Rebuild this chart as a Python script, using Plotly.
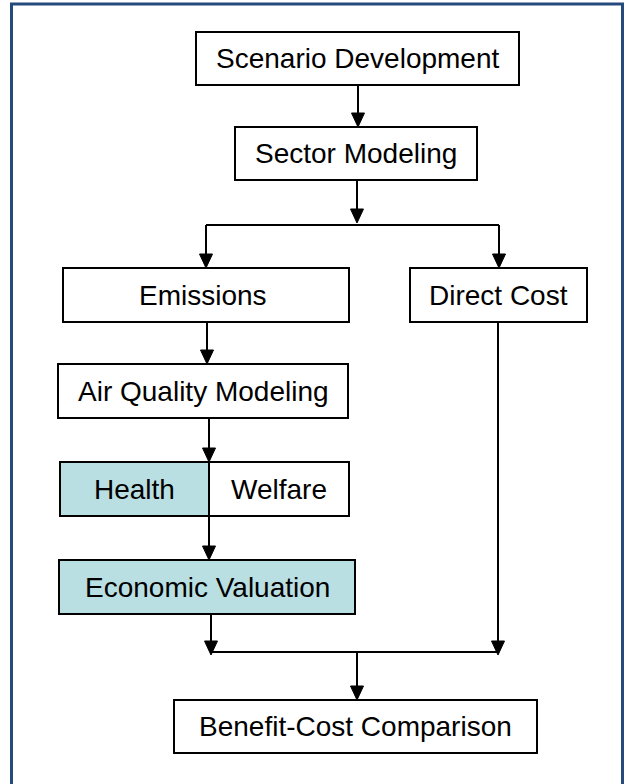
import plotly.graph_objects as go

# ---- content (labels) ----
node_labels = [
    "Scenario Development",
    "Sector Modeling",
    "Emissions",
    "Direct Cost",
    "Air Quality Modeling",
    "Health",
    "Welfare",
    "Economic Valuation",
    "Benefit-Cost Comparison",
]
highlighted = ["Health", "Economic Valuation"]

# ---- layout (pixel coordinate system: x0, x1, y0, y1) ----
box_geom = {
    "Scenario Development": (196, 519, 32, 85),
    "Sector Modeling": (235, 477, 127, 180),
    "Emissions": (63, 349, 268, 322),
    "Direct Cost": (410, 587, 268, 322),
    "Air Quality Modeling": (58, 348, 364, 418),
    "Health": (60, 209, 462, 516),
    "Welfare": (209, 349, 462, 516),
    "Economic Valuation": (59, 355, 560, 614),
    "Benefit-Cost Comparison": (174, 537, 700, 753),
}
text_x_offset = {"Emissions": -3}

# connectors: list of points; last segment ends with an arrow if flagged
connectors = [
    ([(358, 85), (358, 127)], True),
    ([(357, 180), (357, 223)], True),
    ([(206, 225), (499, 225)], False),
    ([(206, 225), (206, 268)], True),
    ([(499, 225), (499, 268)], True),
    ([(207, 322), (207, 364)], True),
    ([(209, 418), (209, 462)], True),
    ([(209, 516), (209, 560)], True),
    ([(211, 614), (211, 655)], True),
    ([(211, 652), (498, 652)], False),
    ([(498, 322), (498, 655)], True),
    ([(357, 652), (357, 700)], True),
]

W, H = 625, 784
TEAL = "#B9DFE2"
BORDER = "#244B7C"

fig = go.Figure()
shapes = []
annotations = []

# outer frame
shapes.append(dict(type="rect", xref="x", yref="y", x0=11.5, x1=622.5, y0=4, y1=800,
                   line=dict(color=BORDER, width=3), fillcolor="rgba(0,0,0,0)", layer="below"))

for lab in node_labels:
    x0, x1, y0, y1 = box_geom[lab]
    fill = TEAL if lab in highlighted else "white"
    shapes.append(dict(type="rect", xref="x", yref="y", x0=x0, x1=x1, y0=y0, y1=y1,
                       line=dict(color="black", width=2), fillcolor=fill, layer="above"))
    annotations.append(dict(x=(x0 + x1) / 2 + text_x_offset.get(lab, 0), y=(y0 + y1) / 2,
                            xref="x", yref="y", text=lab, showarrow=False,
                            font=dict(family="Liberation Sans, Arial", size=28, color="black"),
                            xanchor="center", yanchor="middle"))

AH_LEN, AH_HALF = 14, 6.5
for pts, arrow in connectors:
    (xa, ya), (xb, yb) = pts[0], pts[-1]
    end_y = yb - AH_LEN + 1 if arrow else yb
    shapes.append(dict(type="line", xref="x", yref="y", x0=xa, y0=ya, x1=xb, y1=end_y,
                       line=dict(color="black", width=2), layer="above"))
    if arrow:
        path = f"M {xb - AH_HALF},{yb - AH_LEN} L {xb + AH_HALF},{yb - AH_LEN} L {xb},{yb} Z"
        shapes.append(dict(type="path", xref="x", yref="y", path=path,
                           fillcolor="black", line=dict(color="black", width=1), layer="above"))

fig.update_layout(
    width=W, height=H,
    margin=dict(l=0, r=0, t=0, b=0),
    paper_bgcolor="white", plot_bgcolor="white",
    xaxis=dict(range=[0, W], visible=False, fixedrange=True),
    yaxis=dict(range=[H, 0], visible=False, fixedrange=True),
    shapes=shapes, annotations=annotations, showlegend=False,
)
fig.write_html(
    "out.html",
    config={"displayModeBar": False},
    post_script="document.body.style.margin='0';document.body.style.overflow='hidden';",
)
